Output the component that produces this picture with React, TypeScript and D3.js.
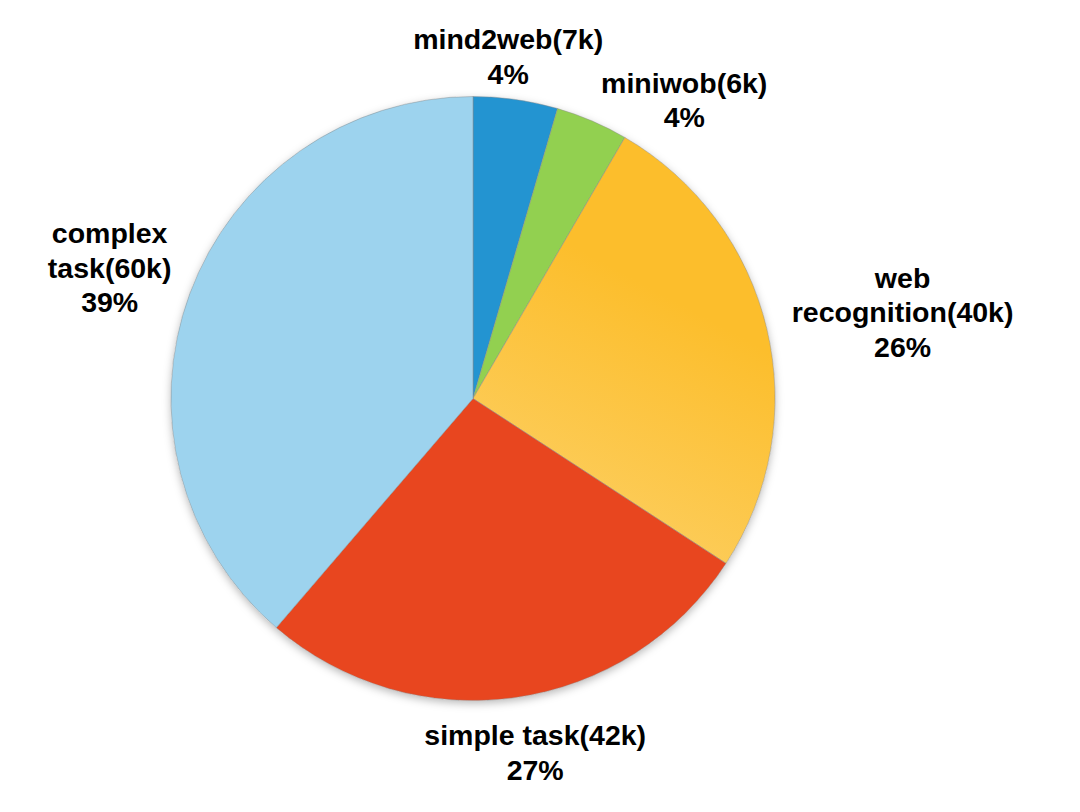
import React from "react";
import * as d3 from "d3";

// Dataset sizes (thousands of samples), in clockwise order from 12 o'clock
const categories = ["mind2web", "miniwob", "web recognition", "simple task", "complex task"];
const valuesK = [7, 6, 40, 42, 60];
const shareLabels = ["4%", "4%", "26%", "27%", "39%"];
// Label text lines (name split where it wraps)
const nameLines = [["mind2web(7k)"], ["miniwob(6k)"], ["web", "recognition(40k)"], ["simple task(42k)"], ["complex", "task(60k)"]];

const colors = ["#2394D1", "#92D050", "url(#webGrad)", "#E8461F", "#9DD3EE"];

// Fine placement tweaks for each label relative to its mid-angle anchor
const labelNudge: Record<string, [number, number]> = {
  "mind2web": [-14, 2],
  "miniwob": [74, 21],
  "web recognition": [91, -6],
  "simple task": [13, 9],
  "complex task": [-37, -10],
};

const W = 1080;
const H = 812;
const cx = 473;
const cy = 398.5;
const R = 302;
const fontSize = 28.5;
const lineH = 34.5;

export default function App() {
  const data = categories.map((c, i) => ({ name: c, value: valuesK[i], i }));
  const pie = d3.pie<any>().sort(null).value((d: any) => d.value);
  const arcs = pie(data);
  const arc = d3.arc<any>().innerRadius(0).outerRadius(R);
  const labelR = R + 46;

  return (
    <svg width={W} height={H} style={{ position: "absolute", left: 0, top: 0, background: "#fff" }}>
      <defs>
        <linearGradient id="webGrad" gradientUnits="userSpaceOnUse" x1={cx + 40} y1={cy + 150} x2={cx + 240} y2={cy - 220}>
          <stop offset="0" stopColor="#FDD880" />
          <stop offset="1" stopColor="#FCBE2C" />
        </linearGradient>
        <filter id="pieShadow" x="-20%" y="-20%" width="140%" height="140%">
          <feDropShadow dx="0" dy="3" stdDeviation="4" floodColor="#000" floodOpacity="0.28" />
        </filter>
      </defs>
      <rect width={W} height={H} fill="#fff" />
      <g transform={`translate(${cx},${cy})`}>
        <circle r={R} fill="#fff" filter="url(#pieShadow)" />
        {arcs.map((a, i) => (
          <path key={i} d={arc(a) as string} fill={colors[i]} stroke="#8a8a8a" strokeWidth={0.6} strokeOpacity={0.8} />
        ))}
      </g>
      {arcs.map((a, i) => {
        const mid = (a.startAngle + a.endAngle) / 2;
        const [nx, ny] = labelNudge[categories[i]];
        const x = cx + Math.sin(mid) * labelR + nx;
        const yc = cy - Math.cos(mid) * labelR + ny;
        const lines = [...nameLines[i], shareLabels[i]];
        const capH = fontSize * 0.72;
        const blockH = capH + (lines.length - 1) * lineH;
        const firstBaseline = yc - blockH / 2 + capH;
        return (
          <text
            key={i}
            x={x}
            y={firstBaseline}
            textAnchor="middle"
            fontFamily="'Liberation Sans', Arial, Helvetica, sans-serif"
            fontWeight="bold"
            fontSize={fontSize}
            fill="#000"
          >
            {lines.map((t, j) => (
              <tspan key={j} x={x} y={firstBaseline + j * lineH}>
                {t}
              </tspan>
            ))}
          </text>
        );
      })}
    </svg>
  );
}
